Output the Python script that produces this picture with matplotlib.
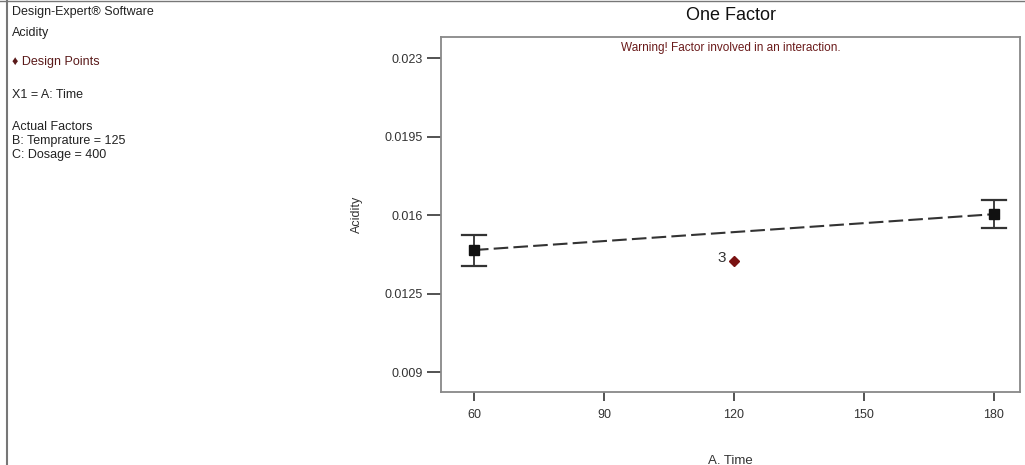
import matplotlib
matplotlib.use("Agg")
import matplotlib.pyplot as plt
from matplotlib.lines import Line2D

# factor levels and predicted acidity
time_levels = [60, 180]
pred_acidity = [0.01444, 0.01604]
lsd_lower = [0.01375, 0.01542]
lsd_upper = [0.01513, 0.01666]

# design point (center run, 3 replicates)
design_time = [120]
design_acidity = [0.01395]
design_count = ["3"]

x_ticks = [60, 90, 120, 150, 180]
y_ticks = [0.009, 0.0125, 0.016, 0.0195, 0.023]
y_tick_labels = ["0.009", "0.0125", "0.016", "0.0195", "0.023"]

side_notes = [
    ("Design-Expert\u00ae Software", 12, "#222222"),
    ("Acidity", 33, "#222222"),
    ("\u2666 Design Points", 62, "#5a1a1a"),
    ("X1 = A: Time", 95, "#222222"),
    ("Actual Factors", 127, "#222222"),
    ("B: Temprature = 125", 141, "#222222"),
    ("C: Dosage = 400", 155, "#222222"),
]

plt.rcParams["font.family"] = ["Liberation Sans", "DejaVu Sans"]

W, H = 1025, 465
fig = plt.figure(figsize=(W / 100, H / 100), dpi=100)

# axes box in pixel terms
left, right, top, bottom = 441, 1020, 37, 392
ax = fig.add_axes([left / W, 1 - bottom / H, (right - left) / W, (bottom - top) / H])

# prediction line
ax.plot(time_levels, pred_acidity, color="#333333", lw=1.5, ls=(0, (7, 2.5)), zorder=2)

# LSD bars
for t, lo, hi in zip(time_levels, lsd_lower, lsd_upper):
    ax.plot([t, t], [lo, hi], color="#333333", lw=1.3, zorder=3)
    ax.plot([t - 2.8, t + 2.8], [lo, lo], color="#333333", lw=1.6, zorder=3)
    ax.plot([t - 2.8, t + 2.8], [hi, hi], color="#333333", lw=1.6, zorder=3)
ax.plot(time_levels, pred_acidity, ls="none", marker="s", ms=7, color="#111111", zorder=4)

# design points
ax.plot(design_time, design_acidity, ls="none", marker="D", ms=5, color="#7a1212", zorder=5)
for t, a, n in zip(design_time, design_acidity, design_count):
    ax.annotate(n, (t, a), xytext=(-9, -3), textcoords="offset points",
                ha="center", va="bottom", fontsize=11, color="#333333")

ax.set_xlim(52.4, 186)
ax.set_ylim(0.00811, 0.02394)
ax.set_xticks(x_ticks)
ax.set_xticklabels([str(v) for v in x_ticks])
ax.set_yticks(y_ticks)
ax.set_yticklabels(y_tick_labels)

for s in ax.spines.values():
    s.set_color("#888888")
    s.set_linewidth(1.3)
ax.tick_params(axis="y", length=10, width=1.3, color="#444444", labelsize=9,
               labelcolor="#333333", pad=3)
ax.tick_params(axis="x", length=6.5, width=1.3, color="#444444", labelsize=9,
               labelcolor="#333333", pad=6)

ax.set_xlabel("A. Time", fontsize=9.5, color="#333333", labelpad=24)
ax.set_ylabel("Acidity", fontsize=9, color="#333333", labelpad=16)

ax.set_title("One Factor", fontsize=13, color="#111111", pad=12)
ax.text(0.5, 0.985, "Warning! Factor involved in an interaction.", transform=ax.transAxes,
        ha="center", va="top", fontsize=8.5, color="#6a1a1a")

# side panel notes
for txt, ypx, col in side_notes:
    fig.text(12 / W, 1 - ypx / H, txt, ha="left", va="center", fontsize=9, color=col)

# frame lines of the panel
fig.add_artist(Line2D([7 / W, 7 / W], [0, 1], color="#777777", lw=1.5))
fig.add_artist(Line2D([0, 1], [1 - 1.5 / H, 1 - 1.5 / H], color="#777777", lw=1.0))

fig.savefig("out.png", dpi=100)
